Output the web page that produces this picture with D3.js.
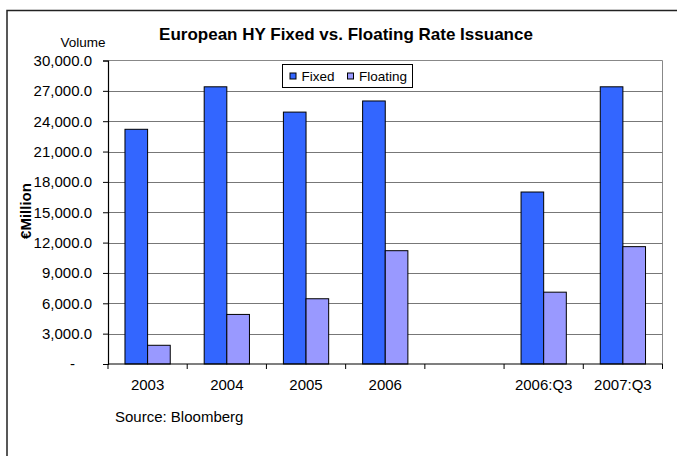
<!DOCTYPE html>
<html>
<head>
<meta charset="utf-8">
<script src="https://cdn.jsdelivr.net/npm/d3@7"></script>
<style>
  html, body { margin: 0; padding: 0; background: #fff; }
  svg { display: block; font-family: Arial, "Liberation Sans", sans-serif; }
</style>
</head>
<body>
<svg id="chart" width="677" height="456"></svg>
<script>
// Issuance volumes, € million
const categories = ["2003", "2004", "2005", "2006", "", "2006:Q3", "2007:Q3"];
const seriesNames = ["Fixed", "Floating"];
const fixedValues = [23200, 27400, 24900, 26000, null, 17000, 27400];
const floatingValues = [1850, 4900, 6450, 11200, null, 7100, 11600];
const yTicks = [0, 3000, 6000, 9000, 12000, 15000, 18000, 21000, 24000, 27000, 30000];
const seriesColors = ["#3366FF", "#9999FF"];

const svg = d3.select("#chart");
const plot = { left: 108, right: 662.5, top: 60.5, bottom: 364 };

const x0 = d3.scaleBand().domain(categories).range([plot.left, plot.right]).paddingInner(0).paddingOuter(0);
const x1 = d3.scaleBand().domain(seriesNames).range([0, x0.bandwidth()]).paddingInner(0).paddingOuter(0.75);
const y = d3.scaleLinear().domain([0, 30000]).range([plot.bottom, plot.top]);

// outer frame
svg.append("path")
  .attr("d", `M7,460 L7,10.5 L680,10.5`)
  .attr("fill", "none").attr("stroke", "#222").attr("stroke-width", 1.5);

// plot area border (top and right)
svg.append("path")
  .attr("d", `M${plot.left},${plot.top} L${plot.right},${plot.top} L${plot.right},${plot.bottom}`)
  .attr("fill", "none").attr("stroke", "#888").attr("stroke-width", 1);

// gridlines
svg.append("g").selectAll("line").data(yTicks.filter(t => t > 0 && t < 30000)).join("line")
  .attr("x1", plot.left).attr("x2", plot.right)
  .attr("y1", d => Math.round(y(d)) + 0.5).attr("y2", d => Math.round(y(d)) + 0.5)
  .attr("stroke", "#777").attr("stroke-width", 1);

// bars
const rows = categories.map((c, i) => ({ cat: c, values: [fixedValues[i], floatingValues[i]] }));
const groups = svg.append("g").selectAll("g").data(rows).join("g")
  .attr("transform", d => `translate(${x0(d.cat)},0)`);
groups.selectAll("rect")
  .data(d => d.values.map((v, j) => ({ name: seriesNames[j], value: v, color: seriesColors[j] })).filter(e => e.value != null))
  .join("rect")
  .attr("x", d => x1(d.name))
  .attr("width", x1.bandwidth())
  .attr("y", d => y(d.value))
  .attr("height", d => y(0) - y(d.value))
  .attr("fill", d => d.color)
  .attr("stroke", "#000").attr("stroke-width", 1);

// y axis
const fmt = d3.format(",.1f");
const yAxis = svg.append("g")
  .attr("transform", `translate(${plot.left},0)`)
  .call(d3.axisLeft(y).tickValues(yTicks).tickSize(5).tickPadding(11)
    .tickFormat(d => d === 0 ? "-" : fmt(d)));
yAxis.select(".domain").attr("stroke", "#000").attr("stroke-width", 1.2);
yAxis.selectAll(".tick line").attr("stroke", "#000");
yAxis.selectAll(".tick text")
  .attr("font-size", 15).attr("fill", "#000")
  .attr("font-family", "Arial, 'Liberation Sans', sans-serif")
  .attr("dx", d => d === 0 ? -17 : 0);

// x axis
const xAxis = svg.append("g").attr("transform", `translate(0,${plot.bottom})`);
xAxis.append("line").attr("x1", plot.left).attr("x2", plot.right)
  .attr("stroke", "#000").attr("stroke-width", 1.2);
const boundaries = categories.map(c => x0(c)).concat([plot.right]);
xAxis.selectAll("line.tk").data(boundaries).join("line").attr("class", "tk")
  .attr("x1", d => d).attr("x2", d => d).attr("y1", 0).attr("y2", 5)
  .attr("stroke", "#000");
xAxis.selectAll("text").data(categories).join("text")
  .attr("x", d => x0(d) + x0.bandwidth() / 2)
  .attr("y", 26)
  .attr("text-anchor", "middle")
  .attr("font-size", 15).attr("fill", "#000")
  .text(d => d);

// titles
svg.append("text").attr("x", 346).attr("y", 40).attr("text-anchor", "middle")
  .attr("font-size", 17).attr("font-weight", "bold").text("European HY Fixed vs. Floating Rate Issuance");
svg.append("text").attr("x", 83).attr("y", 46.5).attr("text-anchor", "middle")
  .attr("font-size", 13.5).text("Volume");
svg.append("text").attr("transform", "translate(31,211) rotate(-90)").attr("text-anchor", "middle")
  .attr("font-size", 15).attr("font-weight", "bold").text("€Million");
svg.append("text").attr("x", 115).attr("y", 421.5)
  .attr("font-size", 15).text("Source: Bloomberg");

// legend
const legend = svg.append("g").attr("transform", "translate(282.5,64.5)");
legend.append("rect").attr("width", 130).attr("height", 23)
  .attr("fill", "#fff").attr("stroke", "#000").attr("stroke-width", 1);
const legendItems = [{ name: seriesNames[0], x: 7.5 }, { name: seriesNames[1], x: 65 }];
legendItems.forEach((it, i) => {
  legend.append("rect").attr("x", it.x).attr("y", 8.5).attr("width", 6).attr("height", 6)
    .attr("fill", seriesColors[i]).attr("stroke", "#000").attr("stroke-width", 1);
  legend.append("text").attr("x", it.x + 11.5).attr("y", 16.5)
    .attr("font-size", 13.5).text(it.name);
});
</script>
</body>
</html>
